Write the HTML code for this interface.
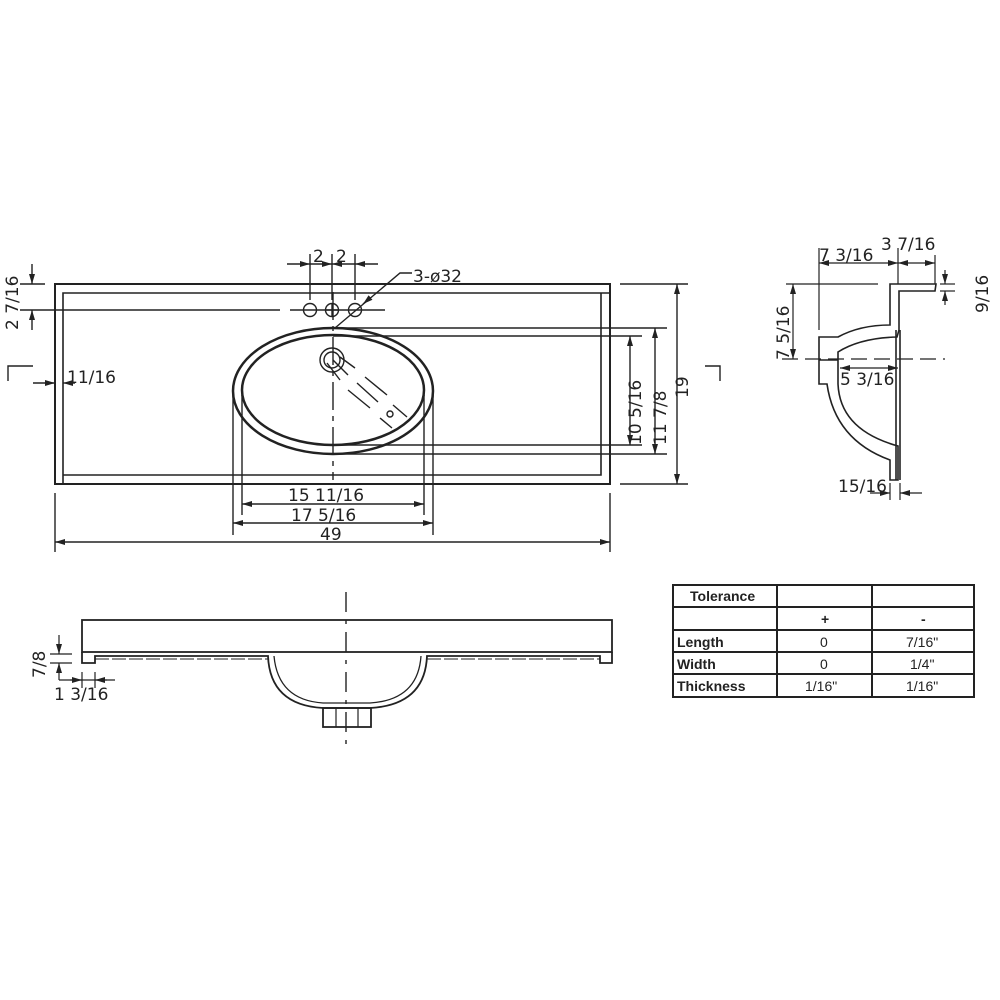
<!DOCTYPE html>
<html><head><meta charset="utf-8"><style>
html,body{margin:0;padding:0;background:#fff}
svg{display:block}
text{font-family:"DejaVu Sans","Liberation Sans",sans-serif;fill:#222}
.d{font-size:17px}
.t{font-family:"Liberation Sans",sans-serif;font-size:14px}
.b{font-weight:bold}
</style></head><body>
<svg width="1000" height="1000" viewBox="0 0 1000 1000" xmlns="http://www.w3.org/2000/svg">
<defs>
<marker id="a" viewBox="0 0 10 6" refX="10" refY="3" markerWidth="10" markerHeight="6" orient="auto-start-reverse" markerUnits="userSpaceOnUse"><path d="M0,0L10,3L0,6z" fill="#222"/></marker>
</defs>
<g stroke="#222" fill="none" stroke-width="2">
<!-- TOP VIEW -->
<rect x="55" y="284" width="555" height="200"/>
<polyline points="63,484 63,293 610,293" stroke-width="1.6"/>
<polyline points="63,475 601,475 601,293" stroke-width="1.6"/>
<ellipse cx="333" cy="391" rx="100" ry="63" stroke-width="2.5"/>
<ellipse cx="333" cy="390" rx="91" ry="55" stroke-width="2.5"/>
<g stroke-width="1.4">
<line x1="333" y1="328" x2="667" y2="328"/>
<line x1="333" y1="336" x2="642" y2="336"/>
<line x1="333" y1="445" x2="642" y2="445"/>
<line x1="333" y1="454" x2="667" y2="454"/>
<line x1="620" y1="284" x2="688" y2="284"/>
<line x1="620" y1="484" x2="688" y2="484"/>
<line x1="630" y1="336" x2="630" y2="445" marker-start="url(#a)" marker-end="url(#a)"/>
<line x1="655" y1="328" x2="655" y2="454" marker-start="url(#a)" marker-end="url(#a)"/>
<line x1="677" y1="284" x2="677" y2="484" marker-start="url(#a)" marker-end="url(#a)"/>
<!-- centerlines -->
<line x1="20" y1="310" x2="280" y2="310"/>
<line x1="290" y1="310" x2="385" y2="310"/>
<line x1="333" y1="292" x2="333" y2="480" stroke-dasharray="28,6,5,6"/>
<!-- holes -->
<circle cx="310" cy="310" r="6.5"/><circle cx="332" cy="310" r="6.5"/><circle cx="355" cy="310" r="6.5"/>
<line x1="325" y1="310" x2="339" y2="310"/><line x1="332" y1="303" x2="332" y2="317"/>
<!-- 2 2 dims -->
<line x1="310" y1="254" x2="310" y2="300"/><line x1="332" y1="254" x2="332" y2="300"/><line x1="355" y1="254" x2="355" y2="300"/>
<line x1="287" y1="264" x2="310" y2="264" marker-end="url(#a)"/>
<line x1="310" y1="264" x2="332" y2="264" marker-end="url(#a)"/>
<line x1="332" y1="264" x2="355" y2="264" marker-start="url(#a)"/>
<line x1="355" y1="264" x2="378" y2="264" marker-start="url(#a)"/>
<!-- leader -->
<polyline points="412,273 400,273 335,328"/>
<line x1="370" y1="298" x2="363" y2="304" marker-end="url(#a)"/>
<!-- left dims -->
<line x1="20" y1="284" x2="45" y2="284"/>
<line x1="32" y1="264" x2="32" y2="284" marker-end="url(#a)"/>
<line x1="32" y1="330" x2="32" y2="310" marker-end="url(#a)"/>
<polyline points="8,381 8,366 33,366"/>
<line x1="33" y1="383" x2="55" y2="383" marker-end="url(#a)"/>
<line x1="75" y1="383" x2="63" y2="383" marker-end="url(#a)"/>
<line x1="55" y1="373" x2="55" y2="390"/>
<polyline points="705,366 720,366 720,381"/>
<!-- bottom dims -->
<line x1="233" y1="395" x2="233" y2="535"/><line x1="242" y1="395" x2="242" y2="515"/>
<line x1="424" y1="395" x2="424" y2="515"/><line x1="433" y1="395" x2="433" y2="535"/>
<line x1="55" y1="493" x2="55" y2="552"/><line x1="610" y1="493" x2="610" y2="552"/>
<line x1="242" y1="504" x2="424" y2="504" marker-start="url(#a)" marker-end="url(#a)"/>
<line x1="233" y1="523" x2="433" y2="523" marker-start="url(#a)" marker-end="url(#a)"/>
<line x1="55" y1="542" x2="610" y2="542" marker-start="url(#a)" marker-end="url(#a)"/>
<!-- drain -->
<circle cx="332" cy="360" r="12"/><circle cx="332" cy="360" r="8"/>
<line x1="327" y1="363" x2="340" y2="380"/><line x1="333" y1="360" x2="348" y2="375"/><line x1="340" y1="357" x2="355" y2="368"/>
<line x1="348" y1="390" x2="370" y2="408"/><line x1="357" y1="383" x2="378" y2="402"/><line x1="365" y1="377" x2="387" y2="395"/>
<line x1="380" y1="418" x2="392" y2="428"/><line x1="393" y1="405" x2="407" y2="417"/>
<circle cx="390" cy="414" r="3"/>
</g>
<!-- SIDE VIEW -->
<g stroke-width="1.6">
<path d="M890,284 L936,284 L935,291 L899,291 L899,330 L897,337 Q860,338 838,352 L838,384 Q840,430 898,446 L898,480 L890,480 L890,460 Q835,440 827,384 L819,384 L819,337 L838,337 Q860,325 890,325 Z"/>
<line x1="896" y1="330" x2="896" y2="480"/><line x1="900" y1="330" x2="900" y2="480"/>
<line x1="819" y1="360" x2="838" y2="360"/>
<g stroke-width="1.2">
<line x1="819" y1="248" x2="819" y2="330"/><line x1="898" y1="248" x2="898" y2="284"/><line x1="935" y1="255" x2="935" y2="284"/>
<line x1="819" y1="263" x2="898" y2="263" marker-start="url(#a)" marker-end="url(#a)"/>
<line x1="898" y1="263" x2="935" y2="263" marker-start="url(#a)" marker-end="url(#a)"/>
<line x1="786" y1="284" x2="878" y2="284"/>
<line x1="793" y1="284" x2="793" y2="359" marker-start="url(#a)" marker-end="url(#a)"/>
<line x1="782" y1="359" x2="945" y2="359" stroke-dasharray="16,7"/>
<line x1="840" y1="368" x2="898" y2="368" marker-start="url(#a)" marker-end="url(#a)"/>
<line x1="940" y1="284" x2="955" y2="284"/><line x1="940" y1="291" x2="955" y2="291"/>
<line x1="945" y1="270" x2="945" y2="284" marker-end="url(#a)"/><line x1="945" y1="305" x2="945" y2="291" marker-end="url(#a)"/>
<line x1="890" y1="483" x2="890" y2="500"/><line x1="900" y1="483" x2="900" y2="500"/>
<line x1="870" y1="493" x2="890" y2="493" marker-end="url(#a)"/><line x1="922" y1="493" x2="900" y2="493" marker-end="url(#a)"/>
</g></g>
<!-- FRONT VIEW -->
<g stroke-width="1.8">
<rect x="82" y="620" width="530" height="32"/>
<path d="M82,652 L82,663 L95,663 L95,656 L268,656 Q270,705 323,708 L370,708 Q425,705 427,656 L600,656 L600,663 L612,663 L612,652"/>
<path d="M274,656 Q278,700 323,703 L370,703 Q418,700 421,656" stroke-width="1.3"/>
<rect x="323" y="708" width="48" height="19"/>
<line x1="336" y1="708" x2="336" y2="727" stroke-width="1.2"/><line x1="358" y1="708" x2="358" y2="727" stroke-width="1.2"/>
<line x1="95" y1="656" x2="268" y2="656" stroke-dasharray="14,3" stroke-width="1" transform="translate(0,3)"/>
<line x1="427" y1="656" x2="600" y2="656" stroke-dasharray="14,3" stroke-width="1" transform="translate(0,3)"/>
<line x1="346" y1="592" x2="346" y2="745" stroke-dasharray="20,8,4,8" stroke-width="1.4"/>
<g stroke-width="1.2">
<line x1="50" y1="654" x2="72" y2="654"/><line x1="50" y1="663" x2="72" y2="663"/>
<line x1="59" y1="635" x2="59" y2="654" marker-end="url(#a)"/><line x1="59" y1="680" x2="59" y2="663" marker-end="url(#a)"/>
<line x1="59" y1="680" x2="115" y2="680"/>
<line x1="82" y1="672" x2="82" y2="688"/><line x1="95" y1="672" x2="95" y2="688"/>
<line x1="70" y1="680" x2="82" y2="680" marker-end="url(#a)"/><line x1="107" y1="680" x2="95" y2="680" marker-end="url(#a)"/>
</g></g>
<!-- TABLE -->
<g stroke-width="2">
<rect x="673" y="585" width="301" height="112"/>
<line x1="673" y1="607" x2="974" y2="607"/><line x1="673" y1="630" x2="974" y2="630"/>
<line x1="673" y1="652" x2="974" y2="652"/><line x1="673" y1="674" x2="974" y2="674"/>
<line x1="777" y1="585" x2="777" y2="697"/><line x1="872" y1="585" x2="872" y2="697"/>
</g>
</g>
<!-- texts -->
<text class="d" x="313" y="262">2</text><text class="d" x="336" y="262">2</text>
<text class="d" x="413" y="282">3-ø32</text>
<text class="d" transform="translate(18,330) rotate(-90)">2 7/16</text>
<text class="d" x="67" y="383">11/16</text>
<text class="d" transform="translate(641,445) rotate(-90)">10 5/16</text>
<text class="d" transform="translate(666,445) rotate(-90)">11 7/8</text>
<text class="d" transform="translate(688,398) rotate(-90)">19</text>
<text class="d" x="288" y="501">15 11/16</text>
<text class="d" x="291" y="521">17 5/16</text>
<text class="d" x="320" y="540">49</text>
<text class="d" x="819" y="261">7 3/16</text>
<text class="d" x="881" y="250">3 7/16</text>
<text class="d" transform="translate(988,313) rotate(-90)">9/16</text>
<text class="d" transform="translate(789,360) rotate(-90)">7 5/16</text>
<text class="d" x="840" y="385">5 3/16</text>
<text class="d" x="838" y="492">15/16</text>
<text class="d" transform="translate(45,678) rotate(-90)">7/8</text>
<text class="d" x="54" y="700">1 3/16</text>
<text class="t b" x="690" y="601">Tolerance</text>
<text class="t b" x="821" y="624">+</text><text class="t b" x="921" y="624">-</text>
<text class="t b" x="677" y="647">Length</text><text class="t" x="820" y="647">0</text><text class="t" x="906" y="647">7/16"</text>
<text class="t b" x="677" y="669">Width</text><text class="t" x="820" y="669">0</text><text class="t" x="910" y="669">1/4"</text>
<text class="t b" x="677" y="691">Thickness</text><text class="t" x="805" y="691">1/16"</text><text class="t" x="906" y="691">1/16"</text>
</svg>
</body></html>
